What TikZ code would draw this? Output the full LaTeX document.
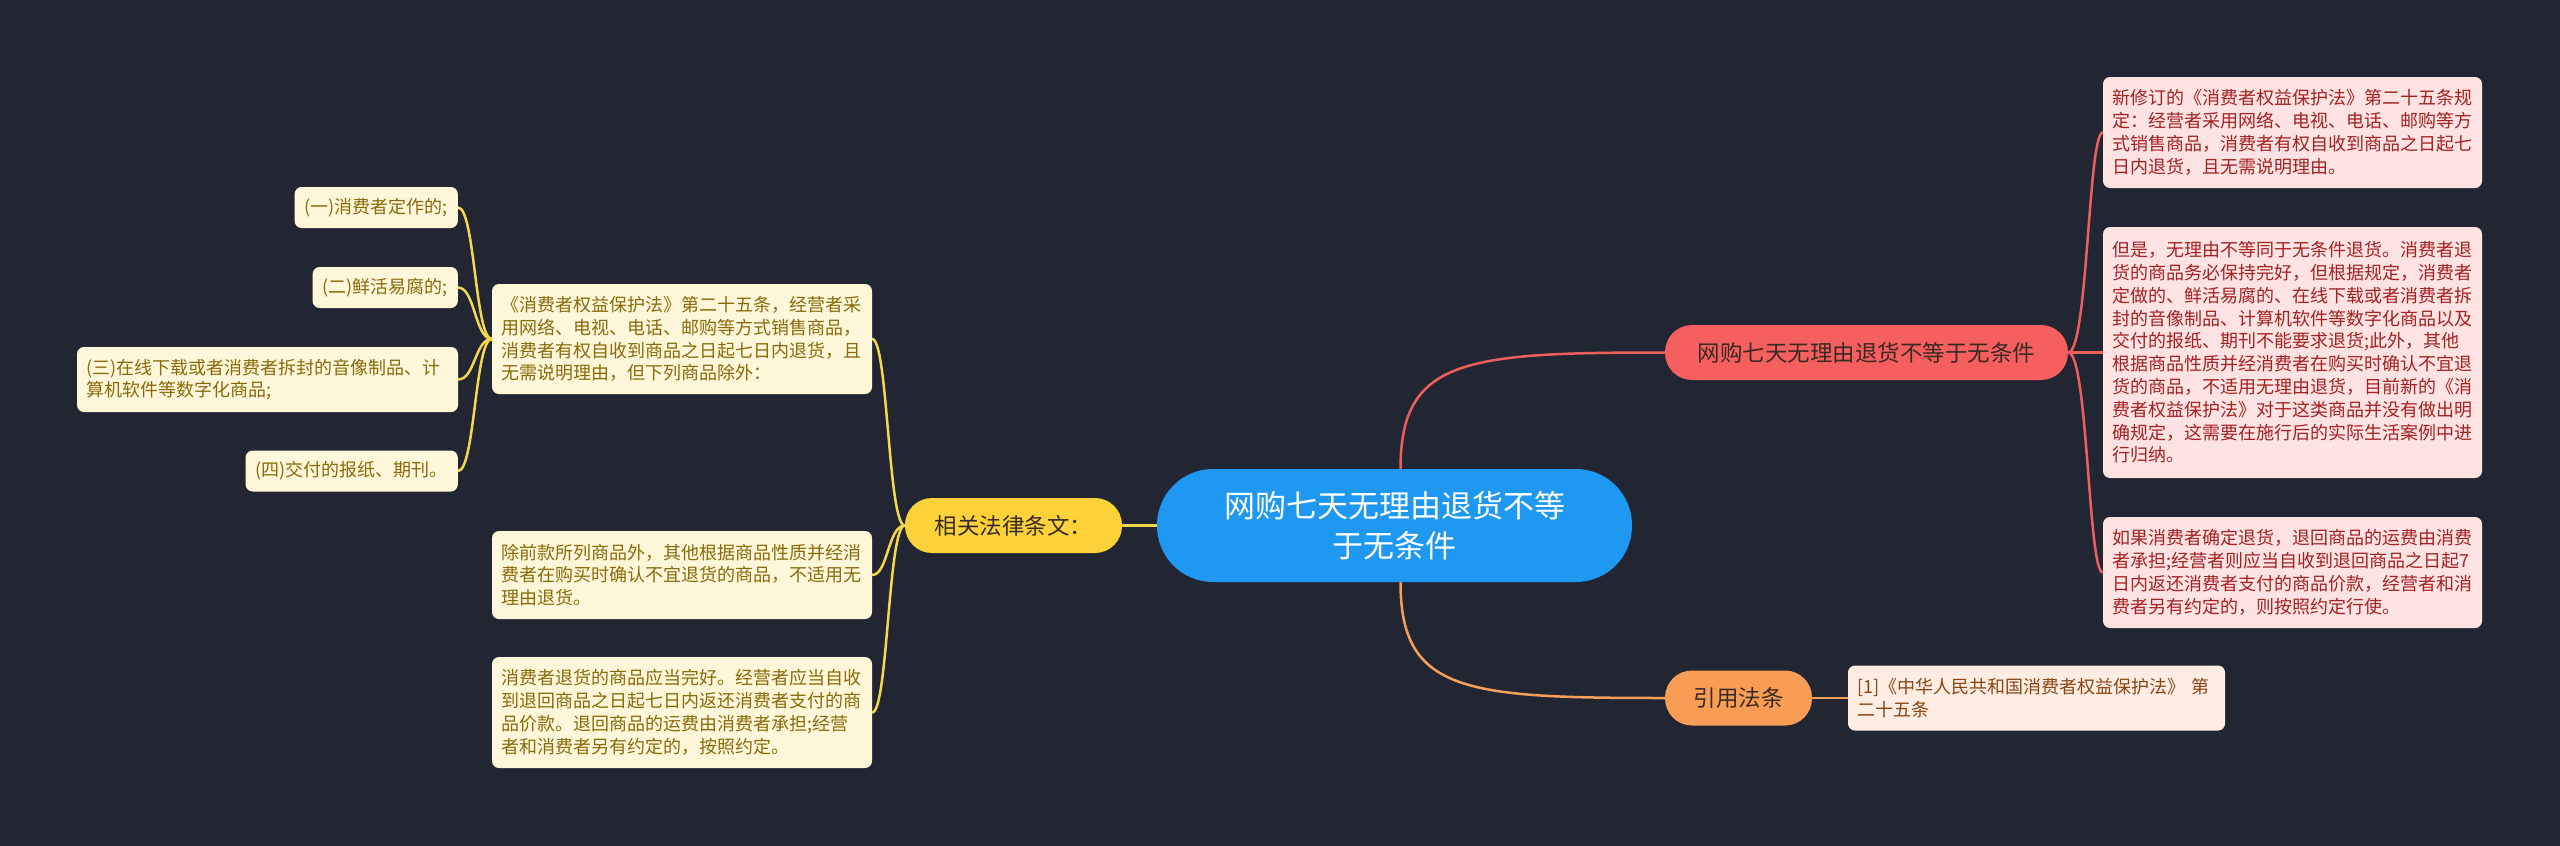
\documentclass[tikz,border=0pt]{standalone}
\usepackage{fontspec}
\setmainfont{Noto Sans CJK SC}
\pgfdeclarelayer{bg}
\pgfsetlayers{bg,main}
\definecolor{bgc}{HTML}{222632}
\definecolor{ctrfill}{HTML}{1E98F0}
\definecolor{rfill}{HTML}{F65F5F}
\definecolor{ofill}{HTML}{F99D55}
\definecolor{yfill}{HTML}{FCD23A}
\definecolor{leafYfill}{HTML}{FFF7DA}
\definecolor{leafRfill}{HTML}{FFE2E2}
\definecolor{leafOfill}{HTML}{FFEDE3}
\definecolor{leafYtext}{HTML}{8A6A0A}
\definecolor{leafRtext}{HTML}{A32222}
\definecolor{leafOtext}{HTML}{8B4513}
\definecolor{darktext}{HTML}{3A2A22}
\definecolor{lineR}{HTML}{EE5F5B}
\definecolor{lineO}{HTML}{F5A05A}
\definecolor{lineY}{HTML}{F3D74C}
\tikzset{
  conn/.style={line width=2.5pt, line cap=round},
  connR/.style={conn, draw=lineR},
  connO/.style={conn, draw=lineO},
  connY/.style={conn, draw=lineY},
  leaf/.style={rounded corners=7pt, inner xsep=9pt, inner ysep=0pt, align=left,
    font=\fontsize{18}{22.8}\selectfont},
  leafY/.style={leaf, fill=leafYfill, text=leafYtext},
  leafR/.style={leaf, fill=leafRfill, text=leafRtext},
  leafO/.style={leaf, fill=leafOfill, text=leafOtext},
  pill/.style={inner sep=0pt, align=center, rounded corners=27pt,
    minimum height=55pt, font=\fontsize{22.5}{28}\selectfont, text=darktext},
}
\begin{document}
\begin{tikzpicture}[x=1pt,y=-1pt]
\useasboundingbox (0,0) rectangle (2560,846);

% central
\node[fill=ctrfill, text=white, rounded corners=56pt, inner sep=0pt, align=center,
  minimum width=475pt, minimum height=113pt,
  font=\fontsize{31}{40}\selectfont] (ctr) at (1394.5,525.5)
  {网购七天无理由退货不等\\于无条件};

% main branches
\node[pill, fill=rfill, minimum width=403pt] (RN1) at (1866.5,352.5) {网购七天无理由退货不等于无条件};
\node[pill, fill=ofill, minimum width=147pt] (RN2) at (1738.5,698) {引用法条};
\node[pill, fill=yfill, minimum width=217pt] (LN) at (1013.5,525.5) {相关法律条文：};

% right leaves
\node[leafR, text width=361pt, minimum height=111pt] (R1) at (2292.5,132.5)
 {新修订的《消费者权益保护法》第二十五条规\\定：经营者采用网络、电视、电话、邮购等方\\式销售商品，消费者有权自收到商品之日起七\\日内退货，且无需说明理由。};
\node[leafR, text width=361pt, minimum height=251pt] (R2) at (2292.5,352.5)
 {但是，无理由不等同于无条件退货。消费者退\\货的商品务必保持完好，但根据规定，消费者\\定做的、鲜活易腐的、在线下载或者消费者拆\\封的音像制品、计算机软件等数字化商品以及\\交付的报纸、期刊不能要求退货;此外，其他\\根据商品性质并经消费者在购买时确认不宜退\\货的商品，不适用无理由退货，目前新的《消\\费者权益保护法》对于这类商品并没有做出明\\确规定，这需要在施行后的实际生活案例中进\\行归纳。};
\node[leafR, text width=361pt, minimum height=111pt] (R3) at (2292.5,572.5)
 {如果消费者确定退货，退回商品的运费由消费\\者承担;经营者则应当自收到退回商品之日起7\\日内返还消费者支付的商品价款，经营者和消\\费者另有约定的，则按照约定行使。};
\node[leafO, text width=359pt, minimum height=65pt] (C1) at (2036.5,698)
 {[1]《中华人民共和国消费者权益保护法》~第\\二十五条};

% left leaves
\node[leafY, text width=362pt, minimum height=110pt] (L1) at (682,339)
 {《消费者权益保护法》第二十五条，经营者采\\用网络、电视、电话、邮购等方式销售商品，\\消费者有权自收到商品之日起七日内退货，且\\无需说明理由，但下列商品除外：};
\node[leafY, text width=362pt, minimum height=88pt] (L2) at (682,575)
 {除前款所列商品外，其他根据商品性质并经消\\费者在购买时确认不宜退货的商品，不适用无\\理由退货。};
\node[leafY, text width=362pt, minimum height=111pt] (L3) at (682,712.5)
 {消费者退货的商品应当完好。经营者应当自收\\到退回商品之日起七日内返还消费者支付的商\\品价款。退回商品的运费由消费者承担;经营\\者和消费者另有约定的，按照约定。};

% sub leaves
\node[leafY, inner xsep=10pt, minimum height=41pt, anchor=east] (S1) at (458,207.5) {(一)消费者定作的;};
\node[leafY, inner xsep=10pt, minimum height=41pt, anchor=east] (S2) at (458,287.5) {(二)鲜活易腐的;};
\node[leafY, text width=363pt, minimum height=65pt] (S3) at (267.5,379.5)
 {(三)在线下载或者消费者拆封的音像制品、计\\算机软件等数字化商品;};
\node[leafY, inner xsep=10pt, minimum height=41pt, anchor=east] (S4) at (458,471) {(四)交付的报纸、期刊。};

\coordinate (spR) at (2088,0);
\coordinate (spL) at (888,0);
\coordinate (spS) at (475,0);

\begin{pgfonlayer}{bg}
\fill[bgc] (0,0) rectangle (2560,846);
% center connectors
\draw[connR] ([xshift=6pt]ctr.north) .. controls +(0,-110) and +(-200,0) .. (RN1.west);
\draw[connO] ([xshift=6pt]ctr.south) .. controls +(0,110) and +(-200,0) .. (RN2.west);
\draw[connY] (ctr.west) -- (LN.east);
\draw[connO] (RN2.east) -- (C1.west);
% right red
\foreach \t in {R1,R2,R3}
  \draw[connR] (RN1.east) .. controls (RN1.east -| spR) and (\t.west -| spR) .. (\t.west);
% left yellow
\foreach \t in {L1,L2,L3}
  \draw[connY] (LN.west) .. controls (LN.west -| spL) and (\t.east -| spL) .. (\t.east);
\foreach \t in {S1,S2,S3,S4}
  \draw[connY] (L1.west) .. controls (L1.west -| spS) and (\t.east -| spS) .. (\t.east);
\end{pgfonlayer}
\end{tikzpicture}
\end{document}
